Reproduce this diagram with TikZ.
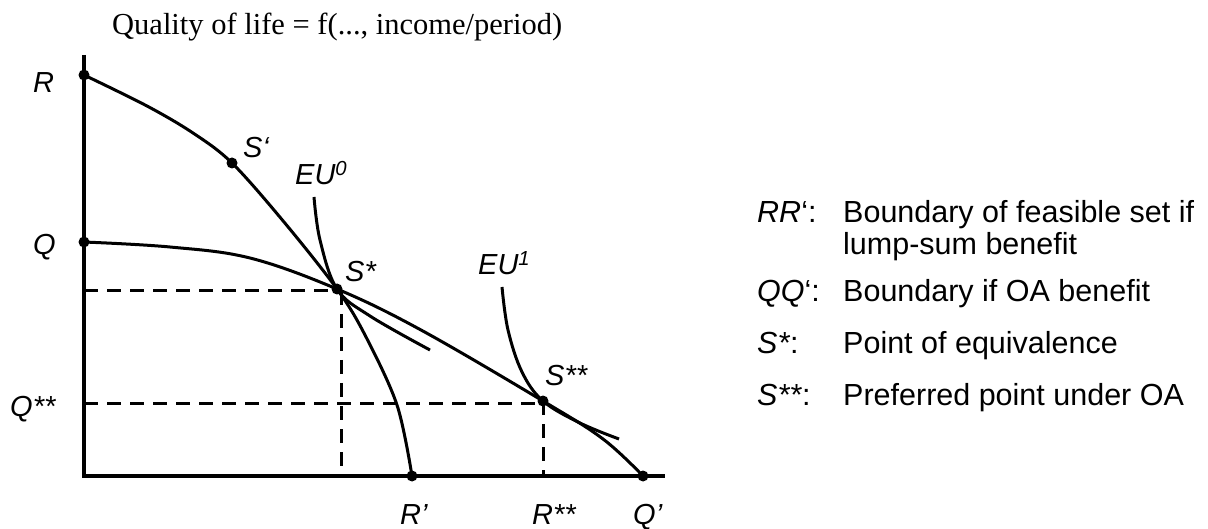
\documentclass[tikz,border=0pt]{standalone}
\usepackage{fontspec}
\setmainfont{Liberation Serif}
\setsansfont{Liberation Sans}
\begin{document}
\begin{tikzpicture}[x=1pt,y=-1pt,
  lab/.style={font=\fontsize{29}{33}\selectfont\sffamily\itshape, inner sep=0, anchor=base west},
  leg/.style={font=\fontsize{30.5}{34}\selectfont\sffamily, inner sep=0, anchor=base west},
  legkey/.style={font=\fontsize{30.5}{34}\selectfont\sffamily, inner sep=0, anchor=base west},
  curve/.style={line width=3pt, line join=round},
  axisline/.style={line width=3.5pt},
  dot/.style={circle, fill=black, inner sep=0, minimum size=11pt},
  dashline/.style={line width=3pt, dash pattern=on 14pt off 9pt}]
\useasboundingbox (0,0) rectangle (1208,529);

% axes
\coordinate (top) at (84,55);
\coordinate (O) at (84,476);
\coordinate (xend) at (665,476);
\draw[axisline] (top) -- (O) -- (xend);

% key points
\coordinate (R) at (84,75);
\coordinate (Q) at (84,242);
\coordinate (Sp) at (232,163);
\coordinate (Ss) at (337,289);
\coordinate (Sss) at (543,401);
\coordinate (Rp) at (412,476);
\coordinate (Qp) at (643,476);
\coordinate (Ssx) at (341,476);
\coordinate (Sssx) at (543,476);
\coordinate (Ssy) at (84,291);
\coordinate (Sssy) at (84,403);

% dashed guides
\draw[dashline] (Ssy) -- (Ss |- Ssy);
\draw[dashline] (Ssx |- Ssy) -- (Ssx);
\draw[dashline] (Sssy) -- (Sss |- Sssy);
\draw[dashline] (Sss) -- (Sssx);

% RR' boundary
\draw[curve] plot[smooth, tension=0.55] coordinates {(R) (147,106) (193,133) (Sp) (284,222) (Ss) (365,335) (397,405) (Rp)};
% QQ' boundary
\draw[curve] plot[smooth, tension=0.6] coordinates {(Q) (170,247) (250,258) (Ss) (421,330) (Sss) (603,439) (Qp)};
% EU0
\coordinate (eu0a) at (314,197);
\coordinate (eu0b) at (430,350);
\draw[curve] plot[smooth, tension=0.6] coordinates {(eu0a) (320,240) (Ss) (370,316) (eu0b)};
% EU1
\coordinate (eu1a) at (502,287);
\coordinate (eu1b) at (619,439);
\draw[curve] plot[smooth, tension=0.6] coordinates {(eu1a) (508,330) (522,372) (Sss) (580,423) (eu1b)};

% dots
\node[dot] at (R) {};
\node[dot] at (Q) {};
\node[dot] at (Sp) {};
\node[dot] at (Ss) {};
\node[dot] at (Sss) {};
\node[dot] at (Rp) {};
\node[dot] at (Qp) {};

% title
\node[font=\fontsize{30.5}{34}\selectfont\rmfamily, inner sep=0, anchor=base west] (title) at (112,35) {Quality of life = f(..., income/period)};

% labels
\node[lab] (lR) at (33,93) {R};
\node[lab] (lQ) at (33,255) {Q};
\node[lab] (lQss) at (10,417) {Q**};
\node[lab] (lSp) at (243,158) {S‘};
\node[lab] (lEU0) at (295,185) {EU\textsuperscript{0}};
\node[lab] (lSs) at (345,282) {S*};
\node[lab] (lEU1) at (478,275) {EU\textsuperscript{1}};
\node[lab] (lSss) at (545,385) {S**};
\node[lab] (lRp) at (400,524) {R’};
\node[lab] (lRss) at (532,524) {R**};
\node[lab] (lQp) at (633,524) {Q’};

% legend
\node[legkey] (k1) at (757,223) {\textit{RR}‘:};
\node[leg] (t1) at (843,223) {Boundary of feasible set if};
\node[leg] (t1b) at (843,255) {lump-sum benefit};
\node[legkey] (k2) at (757,302) {\textit{QQ}‘:};
\node[leg] (t2) at (843,302) {Boundary if OA benefit};
\node[legkey] (k3) at (757,354) {\textit{S*}:};
\node[leg] (t3) at (843,354) {Point of equivalence};
\node[legkey] (k4) at (757,406) {\textit{S**}:};
\node[leg] (t4) at (843,406) {Preferred point under OA};
\end{tikzpicture}
\end{document}
